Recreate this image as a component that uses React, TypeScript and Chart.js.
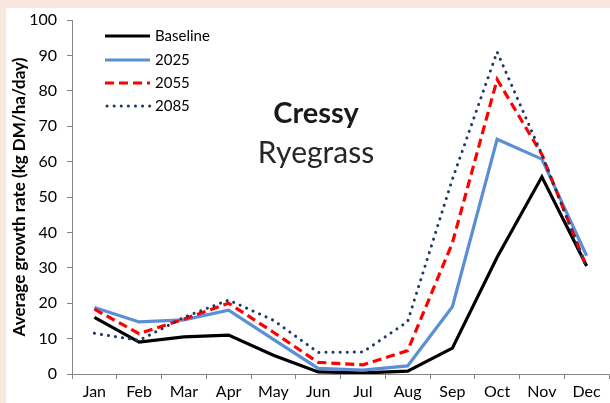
import React, { useEffect, useRef } from "react";
import { Chart, registerables } from "chart.js";

Chart.register(...registerables);

const months = ["Jan", "Feb", "Mar", "Apr", "May", "Jun", "Jul", "Aug", "Sep", "Oct", "Nov", "Dec"];
const baseline = [16, 9, 10.5, 11, 5.3, 0.6, 0.3, 0.8, 7.3, 33, 55.7, 30.5];
const y2025 = [18.8, 14.7, 15.3, 18, 9.8, 1.6, 1.1, 2.3, 19, 66.3, 60.7, 33.4];
const y2055 = [18.3, 11.4, 15.5, 20, 11.8, 3.3, 2.6, 6.6, 37, 83.2, 62, 30.2];
const y2085 = [11.5, 9.5, 16, 20.9, 15.2, 6.1, 6.2, 14.8, 55, 91, 62, 30];
const yTicks = [0, 10, 20, 30, 40, 50, 60, 70, 80, 90, 100];
const seriesNames = ["Baseline", "2025", "2055", "2085"];

const FONT = "Lato, 'Open Sans', sans-serif";

export default function App() {
  const ref = useRef<HTMLCanvasElement | null>(null);

  useEffect(() => {
    if (!ref.current) return;

    const overlay = {
      id: "overlay",
      afterDraw(chart: any) {
        const ctx = chart.ctx;
        ctx.save();
        // legend
        const rows = [28, 52, 75, 98];
        chart.data.datasets.forEach((ds: any, i: number) => {
          const y = rows[i];
          ctx.beginPath();
          ctx.strokeStyle = ds.borderColor;
          ctx.lineWidth = ds.borderWidth;
          ctx.lineCap = ds.borderCapStyle || "butt";
          ctx.setLineDash(ds.borderDash || []);
          ctx.moveTo(i === 3 ? 101 : 99, y);
          ctx.lineTo(144, y);
          ctx.stroke();
          ctx.setLineDash([]);
          ctx.fillStyle = "#000";
          ctx.font = `15px ${FONT}`;
          ctx.textAlign = "left";
          ctx.textBaseline = "middle";
          ctx.fillText(ds.label, 149, y);
        });
        // title text
        ctx.fillStyle = "#1a1a1a";
        ctx.textAlign = "center";
        ctx.textBaseline = "middle";
        ctx.font = `bold 29px ${FONT}`;
        ctx.fillText("Cressy", 310, 106);
        ctx.fillStyle = "#262626";
        ctx.font = `30px ${FONT}`;
        ctx.fillText("Ryegrass", 310, 145);
        ctx.restore();
      },
    };

    const chart = new Chart(ref.current, {
      type: "line",
      data: {
        labels: months,
        datasets: [
          {
            label: seriesNames[0],
            data: baseline,
            borderColor: "#000000",
            borderWidth: 3.2,
            pointRadius: 0,
            order: 4,
          },
          {
            label: seriesNames[1],
            data: y2025,
            borderColor: "#5b8fd5",
            borderWidth: 3.2,
            pointRadius: 0,
            order: 3,
          },
          {
            label: seriesNames[2],
            data: y2055,
            borderColor: "#ff0000",
            borderWidth: 3.2,
            borderDash: [9, 5],
            pointRadius: 0,
            order: 2,
          },
          {
            label: seriesNames[3],
            data: y2085,
            borderColor: "#1f3864",
            borderWidth: 3,
            borderDash: [0.1, 7],
            borderCapStyle: "round",
            pointRadius: 0,
            order: 1,
          },
        ],
      },
      options: {
        animation: false,
        responsive: false,
        maintainAspectRatio: false,
        layout: { padding: { top: 0, right: 1, left: 0, bottom: 0 } },
        plugins: {
          legend: { display: false },
          tooltip: { enabled: false },
          title: { display: false },
        },
        scales: {
          x: {
            type: "category",
            offset: true,
            grid: {
              offset: true,
              drawOnChartArea: false,
              drawTicks: true,
              tickLength: 5,
              color: "#868686",
            },
            border: { color: "#868686", width: 1 },
            ticks: {
              color: "#000",
              font: { family: FONT, size: 16 },
              padding: 3,
              maxRotation: 0,
            },
            afterFit(scale: any) {
              scale.height = 29;
            },
          },
          y: {
            min: 0,
            max: 100,
            afterBuildTicks(scale: any) {
              scale.ticks = yTicks.map((v) => ({ value: v }));
            },
            grid: {
              drawOnChartArea: false,
              drawTicks: true,
              tickLength: 5,
              color: "#868686",
            },
            border: { color: "#868686", width: 1 },
            ticks: {
              color: "#000",
              font: { family: FONT, size: 16 },
              padding: 10,
            },
            title: {
              display: true,
              text: "Average growth rate (kg DM/ha/day)",
              color: "#000",
              font: { family: FONT, size: 17, weight: "bold" },
              padding: { top: 3, bottom: 0 },
            },
            afterFit(scale: any) {
              scale.width = 66;
              scale.paddingTop = 12;
              scale.paddingBottom = 0;
            },
          },
        },
      },
      plugins: [overlay],
    });

    return () => chart.destroy();
  }, []);

  return (
    <div
      style={{
        position: "fixed",
        left: 0,
        top: 0,
        width: 610,
        height: 403,
        background: "#f8e7dd",
        overflow: "hidden",
      }}
    >
      <div
        style={{
          position: "absolute",
          left: 6,
          top: 8,
          width: 604,
          height: 395,
          background: "#ffffff",
        }}
      >
        <canvas ref={ref} width={604} height={395} style={{ display: "block" }} />
      </div>
    </div>
  );
}
